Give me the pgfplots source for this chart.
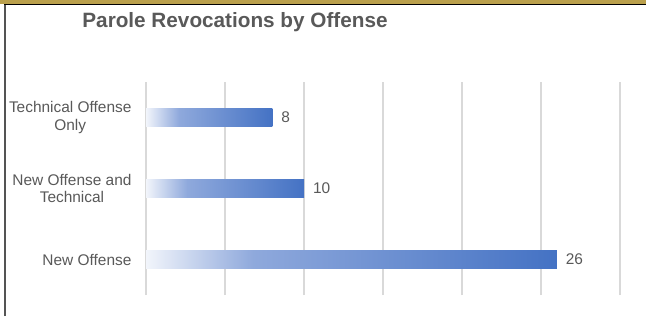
\documentclass[border=0pt]{standalone}
\usepackage{pgfplots}
\pgfplotsset{compat=1.18}
\usepackage{fontspec}
\setmainfont{Liberation Sans}
\definecolor{barblue}{RGB}{68,114,196}
\definecolor{barmid}{RGB}{143,169,220}
\definecolor{barlight}{RGB}{242,245,251}
\definecolor{txtgray}{RGB}{89,89,89}
\definecolor{gridgray}{RGB}{217,217,217}
\definecolor{gold}{RGB}{186,160,76}
\pgfdeclarehorizontalshading{barshade}{100bp}{color(0bp)=(barlight); color(25bp)=(barlight); color(38bp)=(barmid); color(75bp)=(barblue); color(100bp)=(barblue)}
\begin{document}
\begin{tikzpicture}[x=1bp,y=1bp]
\useasboundingbox (0,0) rectangle (646,316);
\fill[white] (0,0) rectangle (646,316);
\fill[gold] (0,312) rectangle (646,316);
\draw[black, line width=1.5bp] (4,311.5) -- (646,311.5);
\draw[black!67, line width=2bp] (5,0) -- (5,311);
\node[font=\bfseries\fontsize{20.8}{24}\selectfont, text=txtgray] at (235,294) {Parole Revocations by Offense};
\begin{axis}[
  at={(146bp,21bp)}, anchor=south west,
  width=474bp, height=213bp, scale only axis,
  xbar, bar width=18bp, bar shift=0pt,
  xmin=0, xmax=30,
  ymin=-0.5, ymax=2.5,
  xtick={0,5,10,15,20,25,30},
  xticklabels={},
  ytick={0,1,2},
  yticklabels={New Offense,{New Offense and\\Technical},{Technical Offense\\Only}},
  yticklabel style={align=center, text=txtgray, font=\fontsize{15.5}{18}\selectfont},
  y tick label style={xshift=-11bp},
  major tick length=0pt,
  axis line style={draw=none},
  xmajorgrids, grid style={gridgray, line width=1.5bp},
  nodes near coords,
  /pgf/number format/assume math mode=true,
  nodes near coords style={text=txtgray, font=\fontsize{15.5}{17}\selectfont, xshift=5.5bp},
  clip=false,
]
\addplot[draw=none, shading=barshade] coordinates {(26,0)};
\addplot[draw=none, shading=barshade] coordinates {(10,1)};
\addplot[draw=none, shading=barshade] coordinates {(8,2)};
\end{axis}
\end{tikzpicture}
\end{document}
